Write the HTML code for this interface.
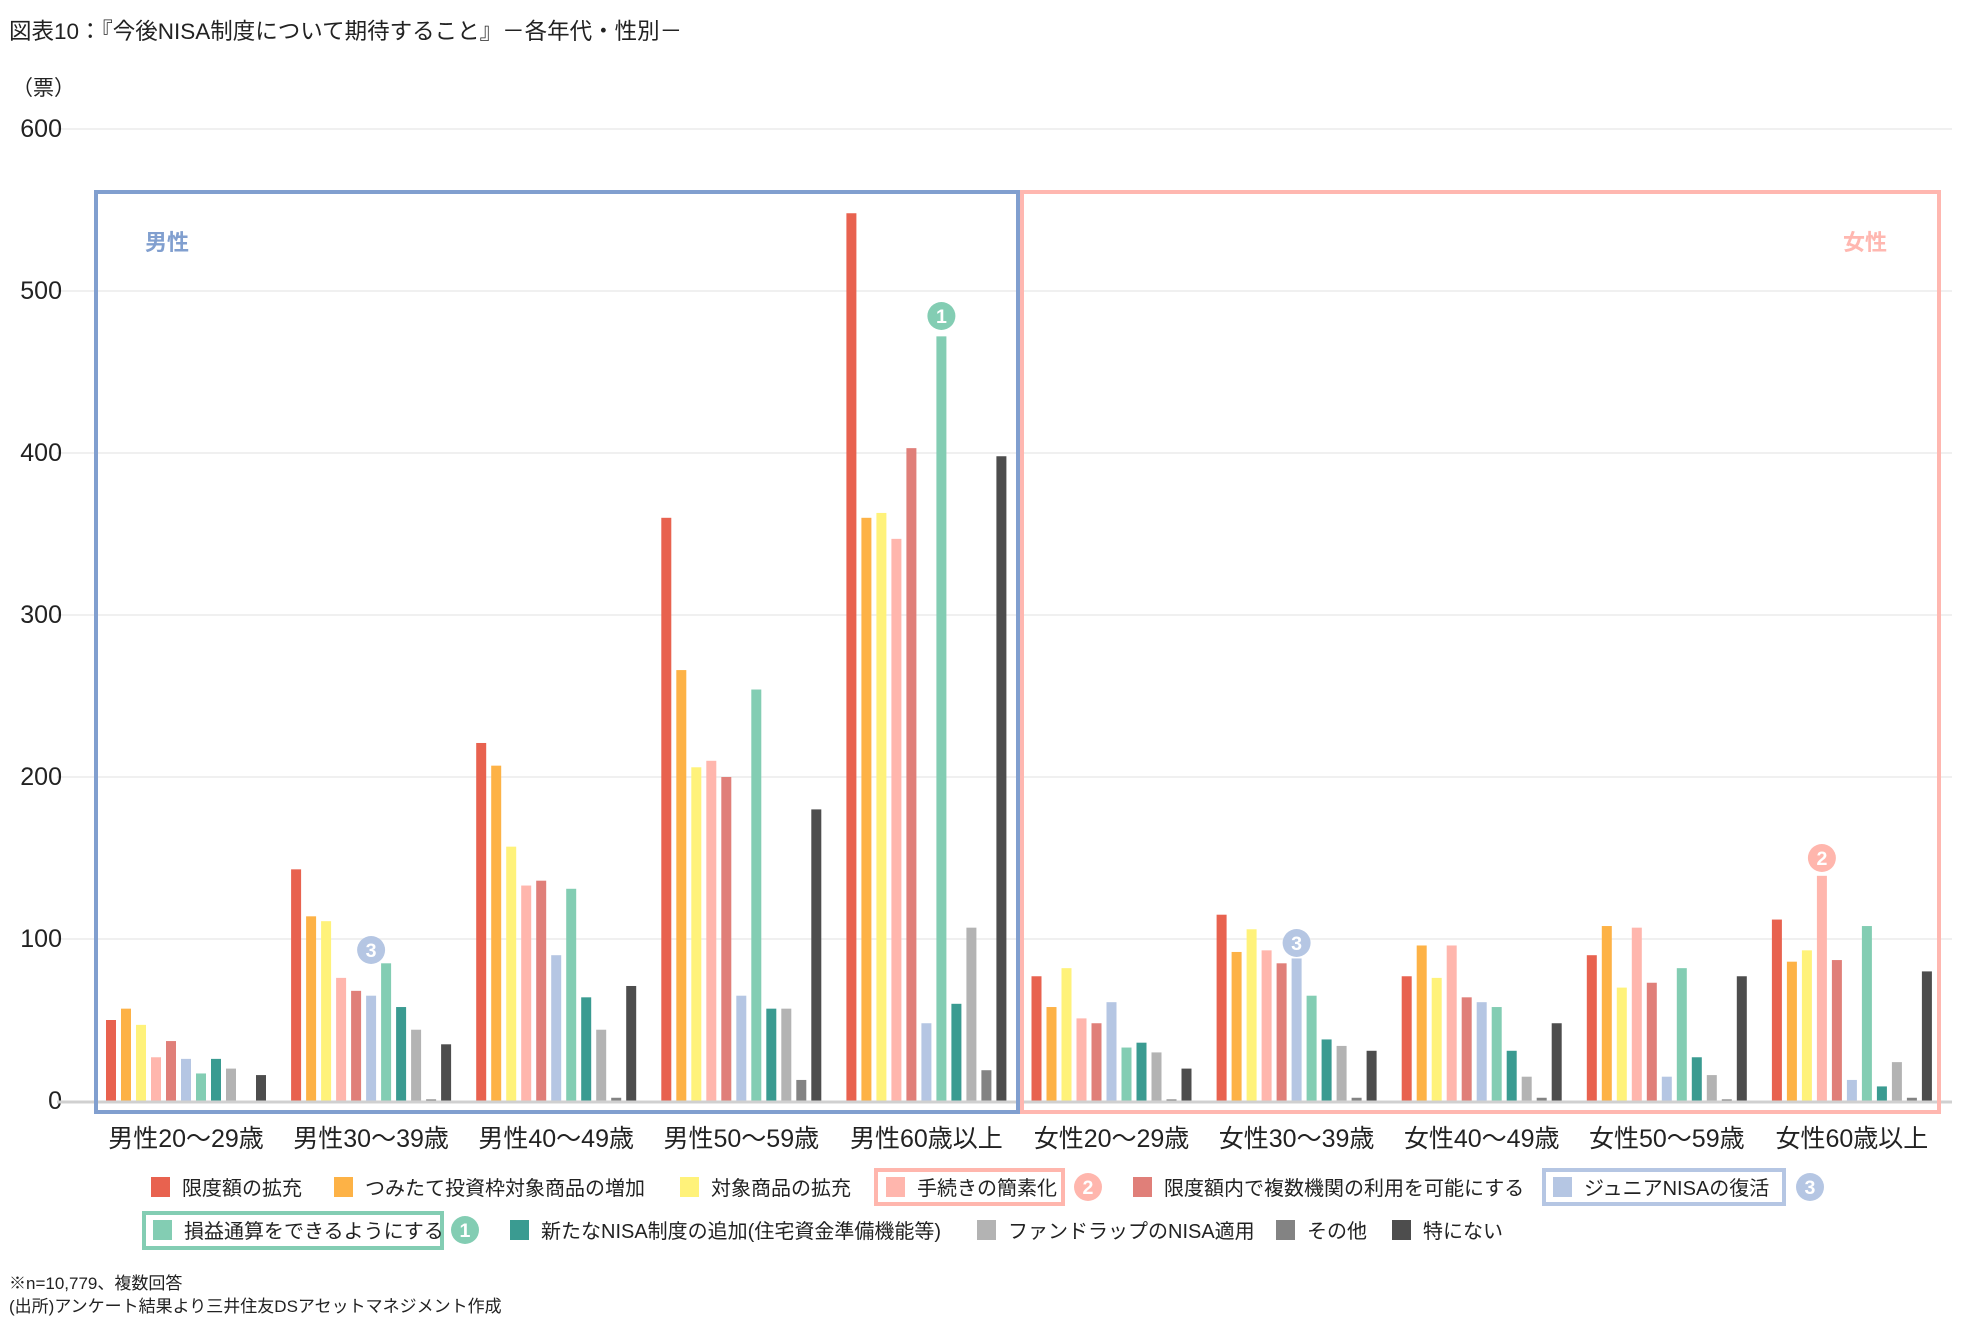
<!DOCTYPE html>
<html><head><meta charset="utf-8">
<style>
body{margin:0;background:#fff;}
svg text{font-family:"Liberation Sans","Noto Sans CJK JP",sans-serif;}
</style></head>
<body>
<svg id="c" width="1973" height="1332" xmlns="http://www.w3.org/2000/svg">
<rect width="1973" height="1332" fill="#fff"/>
<text x="9" y="39" font-size="22.5" fill="#222">図表10：『今後NISA制度について期待すること』－各年代・性別－</text>
<text x="12" y="95" font-size="21" fill="#222">（票）</text>
<g id="grid"></g>
<g id="bars"></g>
<rect x="96" y="192" width="922" height="920" fill="none" stroke="#819fcf" stroke-width="4"/>
<rect x="1022" y="192" width="917" height="920" fill="none" stroke="#ffb7b0" stroke-width="4"/>
<text x="145" y="250" font-size="22" font-weight="bold" fill="#819fcf">男性</text>
<text x="1843" y="250" font-size="22" font-weight="bold" fill="#ffb7b0">女性</text>
<g id="cats"></g>
<g id="marks"></g>
<g id="legend"></g>
<text x="9" y="1289" font-size="17" fill="#222">※n=10,779、複数回答</text>
<text x="9" y="1312" font-size="17" fill="#222">(出所)アンケート結果より三井住友DSアセットマネジメント作成</text>
</svg>
<script>
const NS="http://www.w3.org/2000/svg";
function el(p,t,a,txt){const e=document.createElementNS(NS,t);for(const k in a)e.setAttribute(k,a[k]);if(txt!==undefined)e.textContent=txt;document.getElementById(p).appendChild(e);return e;}
const Y0=1101,S=1.62,P=185.1,X0=106;
for(let v=0;v<=600;v+=100){const y=Y0-v*S;
 if(v>0)el('grid','line',{x1:57,x2:1952,y1:y,y2:y,stroke:'#ececec','stroke-width':1.5});
 el('grid','text',{x:62,y:y+8,'font-size':25,'text-anchor':'end',fill:'#222'},String(v));}
const cols=['#e8624f','#fdb246','#fff27a','#ffb6ad','#e07f79','#b5c6e3','#83cdb3','#3a9b91','#b3b3b3','#838383','#4d4d4d'];
const data=[[50,57,47,27,37,26,17,26,20,0,16],[143,114,111,76,68,65,85,58,44,1,35],[221,207,157,133,136,90,131,64,44,2,71],[360,266,206,210,200,65,254,57,57,13,180],[548,360,363,347,403,48,472,60,107,19,398],[77,58,82,51,48,61,33,36,30,1,20],[115,92,106,93,85,88,65,38,34,2,31],[77,96,76,96,64,61,58,31,15,2,48],[90,108,70,107,73,15,82,27,16,1,77],[112,86,93,139,87,13,108,9,24,2,80]];
const cats=['男性20～29歳','男性30～39歳','男性40～49歳','男性50～59歳','男性60歳以上','女性20～29歳','女性30～39歳','女性40～49歳','女性50～59歳','女性60歳以上'];
data.forEach((g,i)=>{const x0=X0+i*P;
 g.forEach((v,j)=>{if(v>0)el('bars','rect',{x:x0+j*15,y:Y0-v*S,width:10,height:v*S,fill:cols[j]});});
 el('cats','text',{x:x0+80,y:1147,'font-size':25,'text-anchor':'middle',fill:'#222'},cats[i]);});
el('bars','line',{x1:57,x2:1952,y1:Y0+1,y2:Y0+1,stroke:'#d0d0d0','stroke-width':3});
function circ(p,cx,cy,r,c,n){el(p,'circle',{cx:cx,cy:cy,r:r,fill:c});el(p,'text',{x:cx,y:cy+7,'font-size':r*1.4,'font-weight':'bold','text-anchor':'middle',fill:'#fff'},n);}
circ('marks',X0+4*P+95,316,14,'#83cdb3','1');
circ('marks',X0+P+80,950,14,'#b5c6e3','3');
circ('marks',X0+6*P+80,943,14,'#b5c6e3','3');
circ('marks',X0+9*P+50,858,14,'#ffb6ad','2');
function item(x,y,c,t){el('legend','rect',{x:x,y:y-10,width:19,height:20,fill:c});el('legend','text',{x:x+31,y:y+8,'font-size':20,fill:'#222'},t);}
const r1=1187,r2=1230;
el('legend','rect',{x:876,y:1170,width:187,height:34,fill:'none',stroke:'#ffb6ad','stroke-width':4});
el('legend','rect',{x:1544,y:1170,width:240,height:34,fill:'none',stroke:'#b5c6e3','stroke-width':4});
el('legend','rect',{x:144,y:1213,width:298,height:35,fill:'none',stroke:'#83cdb3','stroke-width':4});
item(151,r1,cols[0],'限度額の拡充');
item(334,r1,cols[1],'つみたて投資枠対象商品の増加');
item(680,r1,cols[2],'対象商品の拡充');
item(886,r1,cols[3],'手続きの簡素化');
circ('legend',1088,r1,14,'#ffb6ad','2');
item(1133,r1,cols[4],'限度額内で複数機関の利用を可能にする');
item(1553,r1,cols[5],'ジュニアNISAの復活');
circ('legend',1810,r1,14,'#b5c6e3','3');
item(153,r2,cols[6],'損益通算をできるようにする');
circ('legend',465,r2,14,'#83cdb3','1');
item(510,r2,cols[7],'新たなNISA制度の追加(住宅資金準備機能等)');
item(977,r2,cols[8],'ファンドラップのNISA適用');
item(1276,r2,cols[9],'その他');
item(1392,r2,cols[10],'特にない');
</script>
</body></html>
